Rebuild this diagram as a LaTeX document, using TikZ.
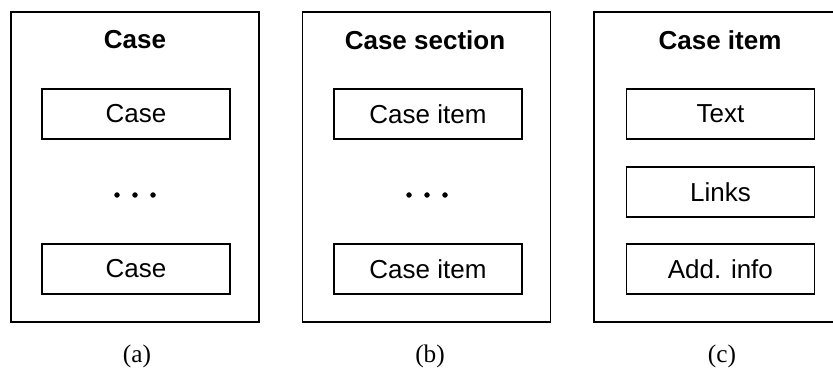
\documentclass[tikz,border=0pt]{standalone}
\usepackage{fontspec}
\setmainfont{Liberation Serif}
\setsansfont{Liberation Sans}
\tikzset{
        frame/.style={draw, line width=1.2pt, minimum width=6.2cm, minimum height=7.75cm},
        part/.style={draw, line width=1.1pt, minimum width=4.7cm, minimum height=1.25cm,
                font=\sffamily\fontsize{18.5}{22}\selectfont},
        heading/.style={font=\sffamily\bfseries\fontsize{18.5}{22}\selectfont},
        caption/.style={font=\fontsize{18}{22}\selectfont}
}
\begin{document}
\begin{tikzpicture}
        \useasboundingbox (0,0) rectangle (20.825,9.7);
        % (a)
        \node[frame] (caseFrame) at (3.375, 5.525) {};
        \node[heading] (caseHead) at (3.375, 8.7) {Case};
        \node[part] (caseFirst) at (3.4, 6.85) {Case};
        \node[part] (caseLast) at (3.4, 2.975) {Case};
        \filldraw [black]   (2.925, 4.825) circle (0.06)
                            (3.375, 4.825) circle (0.06)
                            (3.825, 4.825) circle (0.06);
        \node[caption] (capA) at (3.425, 0.8) {(a)};
        % (b)
        \node[frame] (sectionFrame) at (10.66, 5.525) {};
        \node[heading] (sectionHead) at (10.625, 8.7) {Case section};
        \node[part] (itemFirst) at (10.7, 6.85) {Case item};
        \node[part] (itemLast) at (10.7, 2.975) {Case item};
        \filldraw [black]   (10.225, 4.825) circle (0.06)
                            (10.675, 4.825) circle (0.06)
                            (11.125, 4.825) circle (0.06);
        \node[caption] (capB) at (10.75, 0.8) {(b)};
        % (c)
        \node[frame] (itemFrame) at (17.95, 5.525) {};
        \node[heading] (itemHead) at (18.0, 8.7) {Case item};
        \node[part] (itemText) at (18.01, 6.85) {Text};
        \node[part] (itemLinks) at (18.01, 4.9) {Links};
        \node[part] (itemInfo) at (18.01, 2.975) {Add. info};
        \node[caption] (capC) at (18.05, 0.8) {(c)};
\end{tikzpicture}
\end{document}
